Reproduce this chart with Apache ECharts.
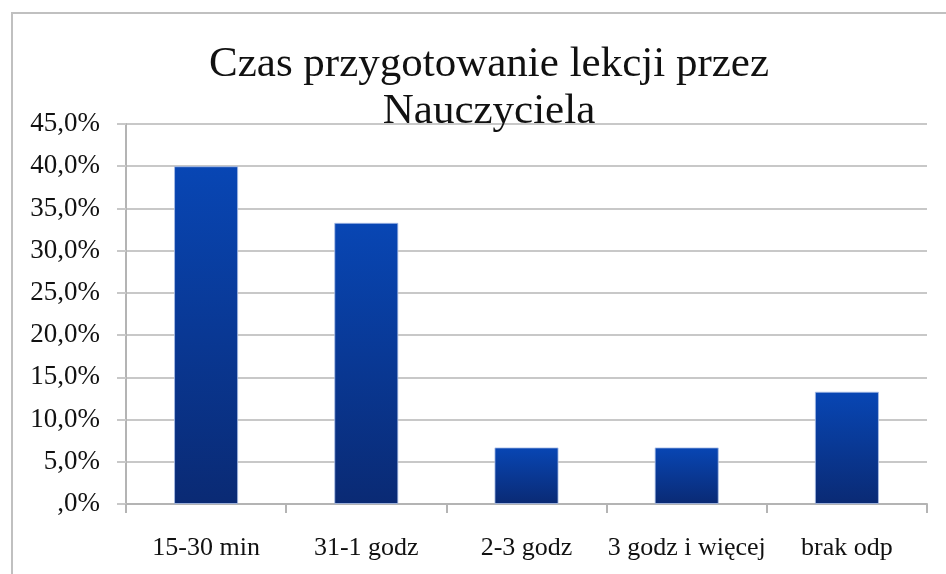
<!DOCTYPE html>
<html><head><meta charset="utf-8">
<script src="https://cdn.jsdelivr.net/npm/echarts@6/dist/echarts.min.js"></script>
<style>html,body{margin:0;padding:0;background:#fff}#c{width:946px;height:574px}
#frame{position:absolute;left:11px;top:12px;width:960px;height:600px;border:2px solid #c0c0c0;box-sizing:border-box;pointer-events:none}</style>
</head><body><div id="c"></div><div id="frame"></div>
<script>
const titleText = 'Czas przygotowanie lekcji przez\nNauczyciela';
const categories = ['15-30 min', '31-1 godz', '2-3 godz', '3 godz i więcej', 'brak odp'];
const values = [40.0, 33.3, 6.7, 6.7, 13.3];
const yTicks = [0, 5, 10, 15, 20, 25, 30, 35, 40, 45];

const chart = echarts.init(document.getElementById('c'));
const font = '"Liberation Serif", serif';
chart.setOption({
  animation: false,
  title: {
    text: titleText, left: 484, textAlign: 'center', top: 36,
    textStyle: {fontFamily: font, fontSize: 43, fontWeight: 'normal', color: '#111', lineHeight: 47}
  },
  grid: {left: 126, right: 19, top: 124, bottom: 70},
  xAxis: {
    type: 'category', data: categories,
    axisLine: {lineStyle: {color: '#b4b4b4', width: 2}},
    axisTick: {show: true, length: 9, lineStyle: {color: '#b4b4b4', width: 2}},
    axisLabel: {fontFamily: font, fontSize: 26, color: '#111', margin: 31, interval: 0, hideOverlap: false}
  },
  yAxis: {
    type: 'value', min: yTicks[0], max: yTicks[yTicks.length - 1], interval: 5,
    axisLine: {show: true, lineStyle: {color: '#b4b4b4', width: 2}},
    axisTick: {show: true, length: 9, lineStyle: {color: '#c8c8c8', width: 2}},
    splitLine: {lineStyle: {color: '#c8c8c8', width: 2}},
    axisLabel: {
      fontFamily: font, fontSize: 27, color: '#111', margin: 26, padding: [7, 0, 0, 0],
      formatter: v => (v === 0 ? '' : v.toFixed(0)) + ',0%'
    }
  },
  series: [{
    type: 'bar', data: values, barCategoryGap: '60%',
    itemStyle: {
      borderColor: 'rgba(170,190,230,0.8)', borderWidth: 1,
      color: new echarts.graphic.LinearGradient(0, 0, 0, 1, [
        {offset: 0, color: '#0846b4'},
        {offset: 1, color: '#0a2a74'}
      ])
    }
  }]
});
</script></body></html>
